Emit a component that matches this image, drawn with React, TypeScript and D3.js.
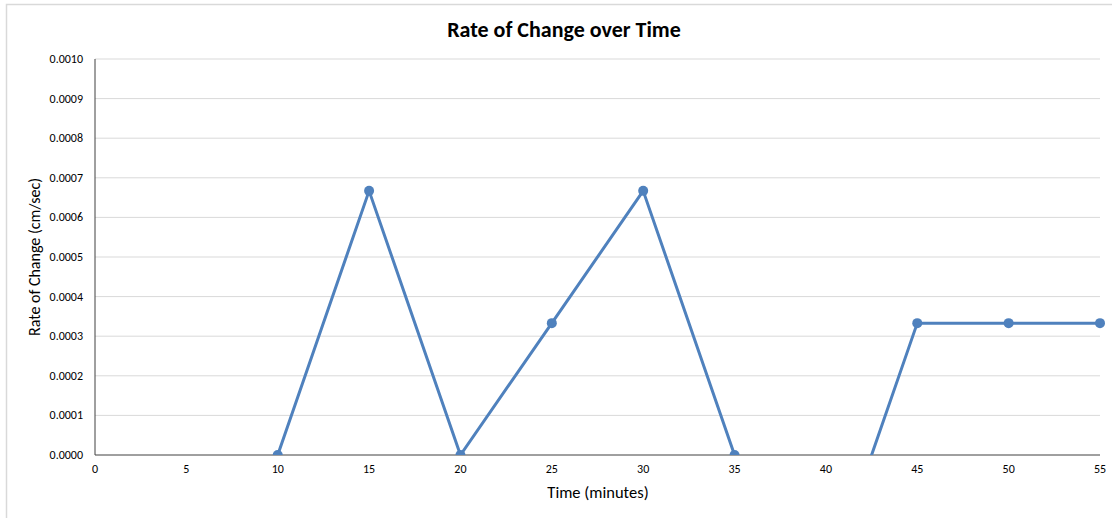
import React from "react";
import * as d3 from "d3";

const times = [10, 15, 20, 25, 30, 35, 40, 45, 50, 55];
const rates = [0, 0.000667, 0, 0.000333, 0.000667, 0, -0.000333, 0.000333, 0.000333, 0.000333];
const xTicks = [0, 5, 10, 15, 20, 25, 30, 35, 40, 45, 50, 55];
const yTicks = [0, 0.0001, 0.0002, 0.0003, 0.0004, 0.0005, 0.0006, 0.0007, 0.0008, 0.0009, 0.001];
const title = "Rate of Change over Time";
const xTitle = "Time (minutes)";
const yTitle = "Rate of Change (cm/sec)";

const W = 1112;
const H = 518;
const M = { left: 95, right: 1100, top: 59, bottom: 455 };
const FONT = "Calibri, Carlito, 'Liberation Sans', 'Open Sans', sans-serif";
const BLUE = "#4f81bd";

export default function App() {
  const x = d3.scaleLinear().domain([0, 55]).range([M.left, M.right]);
  const y = d3.scaleLinear().domain([0, 0.001]).range([M.bottom, M.top]);
  const data = times.map((t, i) => ({ t, v: rates[i] }));
  const line = d3
    .line<{ t: number; v: number }>()
    .x((d) => x(d.t))
    .y((d) => y(d.v));

  return (
    <svg
      width={W}
      height={H}
      style={{ position: "absolute", left: 0, top: 0, background: "#fff" }}
      fontFamily={FONT}
    >
      <defs>
        <clipPath id="plotClip">
          <rect x={M.left - 8} y={M.top - 8} width={M.right - M.left + 16} height={M.bottom - M.top + 8} />
        </clipPath>
      </defs>
      <rect x={6.5} y={4.5} width={W + 10} height={H + 10} fill="#fff" stroke="#d9d9d9" strokeWidth={1.5} />
      <text x={564} y={37} textAnchor="middle" fontSize={22} fontWeight="bold" fill="#000">
        {title}
      </text>
      {yTicks.map((v) => (
        <g key={v}>
          {v > 0 && (
            <line x1={M.left} x2={M.right} y1={y(v)} y2={y(v)} stroke="#d9d9d9" strokeWidth={1} />
          )}
          <text x={M.left - 12} y={y(v) + 4} textAnchor="end" fontSize={12} fill="#000">
            {v.toFixed(4)}
          </text>
        </g>
      ))}
      <line x1={M.left} x2={M.left} y1={M.top} y2={M.bottom} stroke="#404040" strokeWidth={1} />
      <line x1={M.left} x2={M.right} y1={M.bottom} y2={M.bottom} stroke="#404040" strokeWidth={1} />
      {xTicks.map((t) => (
        <text key={t} x={x(t)} y={M.bottom + 18} textAnchor="middle" fontSize={12} fill="#000">
          {t}
        </text>
      ))}
      <text x={598} y={498} textAnchor="middle" fontSize={16.5} fill="#000">
        {xTitle}
      </text>
      <text
        transform={`translate(40,${(M.top + M.bottom) / 2}) rotate(-90)`}
        textAnchor="middle"
        fontSize={16}
        fill="#000"
      >
        {yTitle}
      </text>
      <g clipPath="url(#plotClip)">
        <path d={line(data) || ""} fill="none" stroke={BLUE} strokeWidth={3} strokeLinejoin="round" />
        {data.map((d) => (
          <circle key={d.t} cx={x(d.t)} cy={y(d.v)} r={5} fill={BLUE} />
        ))}
      </g>
    </svg>
  );
}
